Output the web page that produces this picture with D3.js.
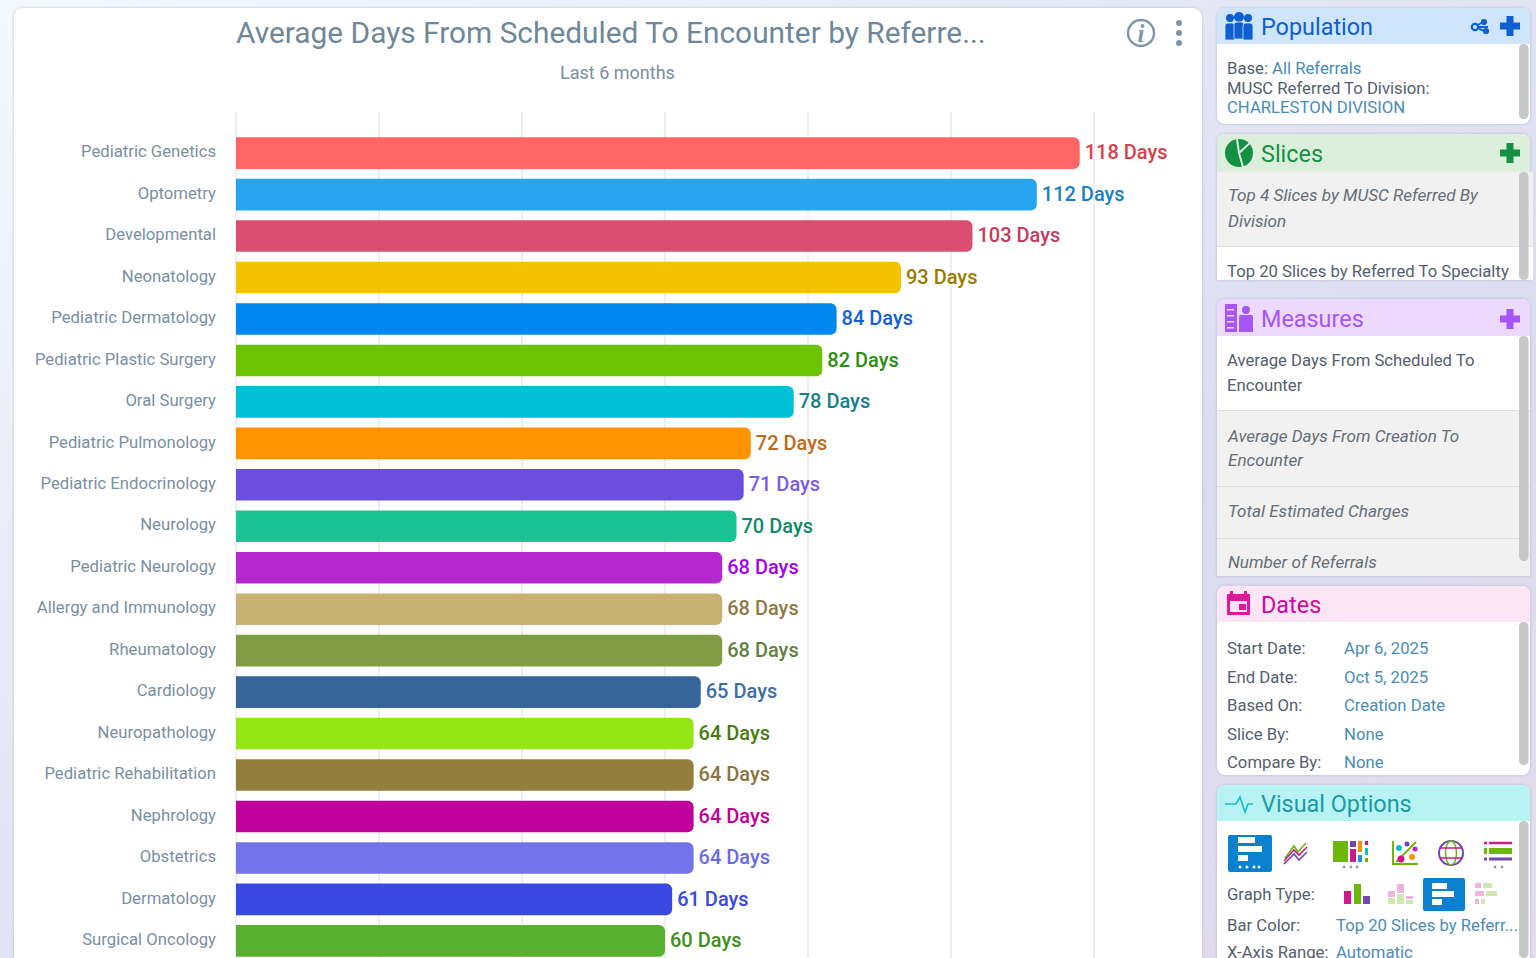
<!DOCTYPE html>
<html>
<head>
<meta charset="utf-8">
<title>Average Days From Scheduled To Encounter</title>
<script src="https://cdn.jsdelivr.net/npm/d3@7"></script>
<style>
  html, body { margin: 0; padding: 0; overflow: hidden; }
  svg { display: block; font-family: Roboto, sans-serif; }
</style>
</head>
<body>
<div id="chart"></div>
<script>
const categories = ["Pediatric Genetics", "Optometry", "Developmental", "Neonatology", "Pediatric Dermatology",
  "Pediatric Plastic Surgery", "Oral Surgery", "Pediatric Pulmonology", "Pediatric Endocrinology", "Neurology",
  "Pediatric Neurology", "Allergy and Immunology", "Rheumatology", "Cardiology", "Neuropathology",
  "Pediatric Rehabilitation", "Nephrology", "Obstetrics", "Dermatology", "Surgical Oncology"];
const values = [118, 112, 103, 93, 84, 82, 78, 72, 71, 70, 68, 68, 68, 65, 64, 64, 64, 64, 61, 60];
const barColors = ["#ff6666", "#26a5ee", "#da4f70", "#f4c300", "#0088f0", "#6cc400", "#00c0d8", "#ff9400", "#6b4de0", "#18c494",
  "#b528d0", "#c8b072", "#809c44", "#366699", "#94e614", "#947e3e", "#c0009c", "#7474ea", "#3848e0", "#58b030"];
const labelColors = ["#d9404a", "#1a7fc9", "#c83a5c", "#9c7a00", "#1060d8", "#2a8e10", "#16808a", "#bf6a1a", "#7a5ce8", "#0f8a68",
  "#a800f0", "#8f7a48", "#62803e", "#3e6ea8", "#4a7a10", "#8a7540", "#c0009a", "#6a6ae8", "#3a48e0", "#3f8f20"];
const gridTicks = [0, 20, 40, 60, 80, 100, 120];

const dateLabels = ["Start Date:", "End Date:", "Based On:", "Slice By:", "Compare By:"];
const dateValues = ["Apr 6, 2025", "Oct 5, 2025", "Creation Date", "None", "None"];

const svg = d3.select("#chart").append("svg").attr("width", 1536).attr("height", 958);
const defs = svg.append("defs");

const bg = defs.append("linearGradient").attr("id", "bg").attr("x1", 0).attr("y1", 0).attr("x2", 1).attr("y2", 1);
bg.append("stop").attr("offset", "0%").attr("stop-color", "#f4f9fe");
bg.append("stop").attr("offset", "65%").attr("stop-color", "#dcdcf0");
bg.append("stop").attr("offset", "100%").attr("stop-color", "#e4dcec");
svg.append("rect").attr("width", 1536).attr("height", 958).attr("fill", "url(#bg)");

const shadow = defs.append("filter").attr("id", "shadow").attr("x", "-5%").attr("y", "-5%").attr("width", "110%").attr("height", "110%");
shadow.append("feDropShadow").attr("dx", 0).attr("dy", 0).attr("stdDeviation", 1.5).attr("flood-color", "#8a9ab8").attr("flood-opacity", 0.55);

// rectangle with its own radius on each corner
function roundPath(x, y, w, h, tl, tr, br, bl) {
  const p = d3.path();
  p.moveTo(x + tl, y);
  p.lineTo(x + w - tr, y);
  if (tr) p.arcTo(x + w, y, x + w, y + tr, tr);
  p.lineTo(x + w, y + h - br);
  if (br) p.arcTo(x + w, y + h, x + w - br, y + h, br);
  p.lineTo(x + bl, y + h);
  if (bl) p.arcTo(x, y + h, x, y + h - bl, bl);
  p.lineTo(x, y + tl);
  if (tl) p.arcTo(x, y, x + tl, y, tl);
  p.closePath();
  return p.toString();
}

function rect(g, x, y, w, h, fill, rx) {
  return g.append("rect").attr("x", x).attr("y", y).attr("width", w).attr("height", h).attr("fill", fill).attr("rx", rx || 0);
}

function text(g, x, y, str, color, size, style) {
  const t = g.append("text").attr("x", x).attr("y", y).attr("dy", "0.35em")
    .attr("fill", color).attr("font-size", size).text(str);
  if (style) t.attr("font-style", style);
  return t;
}

function plus(g, cx, cy, color) {
  g.append("path").attr("fill", color)
    .attr("d", `M${cx - 3.5},${cy - 10}h7v6.5h6.5v7h-6.5v6.5h-7v-6.5h-6.5v-7h6.5z`);
}

// ---- main chart card ----
const card = svg.append("g");
card.append("path").attr("d", roundPath(14, 8, 1188, 960, 9, 9, 0, 0)).attr("fill", "#fff").attr("filter", "url(#shadow)");

text(card, 236, 33, "Average Days From Scheduled To Encounter by Referre...", "#6f8799", 29.85);
text(card, 617.5, 73, "Last 6 months", "#7d8f9e", 18).attr("text-anchor", "middle");

card.append("circle").attr("cx", 1141).attr("cy", 33).attr("r", 13).attr("fill", "none").attr("stroke", "#8197a8").attr("stroke-width", 2.4);
card.append("text").attr("x", 1141).attr("y", 42).attr("text-anchor", "middle").attr("font-family", "Liberation Serif")
  .attr("font-style", "italic").attr("font-weight", 700).attr("font-size", 25).attr("fill", "#8197a8").text("i");
card.selectAll(".dot").data([23, 33, 43]).enter().append("circle").attr("class", "dot")
  .attr("cx", 1179).attr("cy", d => d).attr("r", 3).attr("fill", "#7f95a6");

const x = d3.scaleLinear().domain([0, 120]).range([236, 1094]);
const y = d3.scaleBand().domain(categories).range([132.4, 961.6]).paddingInner(0.238).paddingOuter(0.119);

const grid = card.append("g").attr("transform", "translate(-0.5,112)")
  .call(d3.axisBottom(x).tickValues(gridTicks).tickSize(846).tickFormat(""));
grid.select(".domain").remove();
grid.selectAll("line").attr("stroke", "#e9e9e9").attr("stroke-width", 1.5);

const yAxis = card.append("g").attr("transform", "translate(236,0)")
  .call(d3.axisLeft(y).tickSize(0).tickPadding(20));
yAxis.select(".domain").remove();
yAxis.selectAll("text").attr("fill", "#7b8fa1").attr("font-size", 16.7).attr("font-family", "Roboto").attr("dy", "0.25em");

const rows = categories.map((c, i) => ({ name: c, value: values[i], color: barColors[i], label: labelColors[i] }));

card.selectAll(".bar").data(rows).enter().append("path").attr("class", "bar")
  .attr("d", d => roundPath(x(0), y(d.name), x(d.value) - x(0), y.bandwidth(), 0, 6, 6, 0))
  .attr("fill", d => d.color);

card.selectAll(".val").data(rows).enter().append("text").attr("class", "val")
  .attr("x", d => x(d.value) + 5)
  .attr("y", d => y(d.name) + y.bandwidth() / 2 - 0.7)
  .attr("dy", "0.35em")
  .attr("font-size", 20).attr("font-weight", 500)
  .attr("fill", d => d.label)
  .text(d => d.value + " Days");

// ---- side panels ----
const side = svg.append("g");
const px = 1217, pw = 313;

function panel(top, headH, bodyBottom, headColor, title, titleColor, rounded) {
  const g = side.append("g");
  const r = rounded ? 8 : 0;
  g.append("path").attr("d", roundPath(px, top, pw, bodyBottom - top, 8, 8, r, r)).attr("fill", "#fff").attr("filter", "url(#shadow)");
  g.append("path").attr("d", roundPath(px, top, pw, headH, 8, 8, 0, 0)).attr("fill", headColor);
  text(g, 1261, top + headH / 2 + 1, title, titleColor, 23.4);
  return g;
}

function scrollbar(g, top, bottom) {
  rect(g, 1519, top, 9.5, bottom - top, "#c8c8c8", 4.5);
}

// Population
const pop = panel(8, 36, 124, "#cfe5fb", "Population", "#0f5fd0", true);
text(pop, 1227, 68, "Base: ", "#55606c", 16.7);
text(pop, 1272, 68, "All Referrals", "#4a8cb8", 16.7);
text(pop, 1227, 88, "MUSC Referred To Division:", "#55606c", 16.7);
text(pop, 1227, 107, "CHARLESTON DIVISION", "#4a8cb8", 16.7);
scrollbar(pop, 44, 119);
[[1230, 18, 4], [1239, 17, 5], [1248, 18, 4]].forEach(d => {
  pop.append("circle").attr("cx", d[0]).attr("cy", d[1]).attr("r", d[2]).attr("fill", "#0f5fd0");
  pop.append("path").attr("d", roundPath(d[0] - 5, d[1] + 5, 10, 17, 3, 3, 1, 1)).attr("fill", "#0f5fd0")
    .attr("stroke", "#cfe5fb").attr("stroke-width", 0.8);
});
[[1475, 27, 3.2], [1484, 22, 2], [1486, 31, 2]].forEach(d => {
  pop.append("circle").attr("cx", d[0]).attr("cy", d[1]).attr("r", d[2]).attr("fill", d[2] < 3 ? "#0f5fd0" : "none").attr("stroke", "#0f5fd0").attr("stroke-width", 2.2);
});
pop.append("path").attr("d", "M1478,25L1483,22M1479,29L1485,31M1479,27h9").attr("stroke", "#0f5fd0").attr("stroke-width", 2);
plus(pop, 1510, 26, "#0f5fd0");

// Slices
const sli = panel(134, 38, 280, "#dcefdc", "Slices", "#139044", false);
rect(sli, px, 172, 316, 74, "#f1f1f1");
rect(sli, px, 246, 316, 1, "#e2e2e2");
rect(sli, px + 313, 247, 3, 33, "#fff");
text(sli, 1228, 195, "Top 4 Slices by MUSC Referred By", "#666e76", 17.1, "italic");
text(sli, 1228, 221, "Division", "#666e76", 17.1, "italic");
text(sli, 1227, 271, "Top 20 Slices by Referred To Specialty", "#55606c", 16.7);
scrollbar(sli, 172, 280);
sli.append("circle").attr("cx", 1239).attr("cy", 153).attr("r", 14).attr("fill", "#139044");
sli.append("path").attr("d", "M1252,141L1239,153L1243,167M1239,153L1237,139").attr("fill", "none").attr("stroke", "#dcefdc").attr("stroke-width", 2);
plus(sli, 1510, 153, "#139044");

// Measures
const mea = panel(299, 37, 576, "#ecd9fd", "Measures", "#a855f7", false);
[[410, 76], [486, 52], [538, 38]].forEach(d => {
  rect(mea, px, d[0], pw, d[1], "#f1f1f1");
  rect(mea, px, d[0], pw, 1, "#dfdfdf");
});
text(mea, 1227, 360, "Average Days From Scheduled To", "#55606c", 16.7);
text(mea, 1227, 385, "Encounter", "#55606c", 16.7);
text(mea, 1228, 436, "Average Days From Creation To", "#666e76", 17.1, "italic");
text(mea, 1228, 460, "Encounter", "#666e76", 17.1, "italic");
text(mea, 1228, 511, "Total Estimated Charges", "#666e76", 17.1, "italic");
text(mea, 1228, 562, "Number of Referrals", "#666e76", 17.1, "italic");
scrollbar(mea, 336, 561);
rect(mea, 1225, 304, 12, 28, "#a855f7");
[309, 315, 321, 327].forEach(d => rect(mea, 1227, d, 7, 1.5, "#ecd9fd"));
mea.append("circle").attr("cx", 1246).attr("cy", 310).attr("r", 4).attr("fill", "#a855f7");
mea.append("path").attr("d", roundPath(1239, 315, 14, 17, 2, 2, 0, 0)).attr("fill", "#a855f7");
plus(mea, 1510, 319, "#a855f7");

// Dates
const dat = panel(586, 36, 775, "#fce6f5", "Dates", "#d4089c", true);
dateLabels.forEach((d, i) => {
  const cy = [648, 677, 705, 734, 762][i];
  text(dat, 1227, cy, d, "#55606c", 16.7);
  text(dat, 1344, cy, dateValues[i], "#4a8cb8", 16.7);
});
scrollbar(dat, 622, 765);
rect(dat, 1227, 594, 23, 21, "#e3169c", 1);
rect(dat, 1230, 591, 3, 5, "#e3169c");
rect(dat, 1244, 591, 3, 5, "#e3169c");
rect(dat, 1230, 601, 17, 11, "#fce6f5");
rect(dat, 1239, 604, 7, 6, "#e3169c");

// Visual Options
const vis = panel(785, 36, 970, "#b8f3f3", "Visual Options", "#1a9aa6", false);
scrollbar(vis, 821, 958);
vis.append("path").attr("d", "M1225,804h11l4,-7l5,15l3,-8h5").attr("fill", "none").attr("stroke", "#17bcd4").attr("stroke-width", 1.6);

// selected chart icon
rect(vis, 1228, 835, 44, 37, "#0a80d0", 2);
rect(vis, 1238, 837, 17, 6, "#fff");
rect(vis, 1238, 846, 24, 6, "#fff");
rect(vis, 1238, 855, 10, 6, "#fff");
[1240, 1247, 1254, 1259].forEach(d => vis.append("circle").attr("cx", d).attr("cy", 867).attr("r", 1.5).attr("fill", "#fff"));

// line icon
vis.append("path").attr("d", "M1285,858l9,-12l4,6l8,-9").attr("fill", "none").attr("stroke", "#6cb80a").attr("stroke-width", 1.6);
vis.append("path").attr("d", "M1284,861l10,-11l5,5l8,-8").attr("fill", "none").attr("stroke", "#d0188c").attr("stroke-width", 1.6);
vis.append("path").attr("d", "M1284,864l10,-10l5,6l8,-8").attr("fill", "none").attr("stroke", "#7048b0").attr("stroke-width", 1.6);

// treemap icon
rect(vis, 1333, 841, 15, 21, "#6cb80a");
rect(vis, 1350, 841, 6, 6, "#7048b0");
rect(vis, 1350, 849, 6, 13, "#d0188c");
rect(vis, 1358, 841, 4, 11, "#f49400");
rect(vis, 1358, 855, 4, 7, "#2090e0");
rect(vis, 1365, 841, 3, 4, "#d0188c");
rect(vis, 1365, 848, 3, 7, "#10c0c8");
rect(vis, 1365, 858, 3, 4, "#6cb80a");
[1344, 1351, 1357].forEach(d => vis.append("circle").attr("cx", d).attr("cy", 867).attr("r", 1.4).attr("fill", "#999"));

// scatter icon
vis.append("path").attr("d", "M1393,841v23h25").attr("fill", "none").attr("stroke", "#6cb80a").attr("stroke-width", 2);
vis.append("path").attr("d", "M1396,862l20,-20").attr("fill", "none").attr("stroke", "#6cb80a").attr("stroke-width", 2);
[[1399, 848, 3, "#10c0c8"], [1407, 844, 2.5, "#7048b0"], [1415, 849, 2.5, "#c020c0"], [1401, 859, 3.5, "#d0188c"], [1412, 857, 3, "#f49400"]]
  .forEach(d => vis.append("circle").attr("cx", d[0]).attr("cy", d[1]).attr("r", d[2]).attr("fill", d[3]));

// globe icon
vis.append("circle").attr("cx", 1451).attr("cy", 853).attr("r", 12).attr("fill", "none").attr("stroke", "#7048b0").attr("stroke-width", 2);
vis.append("ellipse").attr("cx", 1451).attr("cy", 853).attr("rx", 5.5).attr("ry", 12).attr("fill", "none").attr("stroke", "#6cb80a").attr("stroke-width", 1.5);
vis.append("path").attr("d", "M1440,848h22M1440,858h22").attr("stroke", "#d0188c").attr("stroke-width", 1.5);

// table icon
[[843, "#d0188c", 2.5], [851, "#6cb80a", 6], [859, "#7048b0", 3]].forEach(d => {
  rect(vis, 1484, d[0] - d[2] / 2, 3, d[2], d[1]);
  rect(vis, 1489, d[0] - d[2] / 2, 23, d[2], d[1]);
});
[1495, 1502].forEach(d => vis.append("circle").attr("cx", d).attr("cy", 867).attr("r", 1.4).attr("fill", "#999"));

text(vis, 1227, 894, "Graph Type:", "#55606c", 16.7);
rect(vis, 1344, 891, 7, 13, "#d0188c");
rect(vis, 1354, 884, 7, 20, "#6cb80a");
rect(vis, 1363, 896, 7, 8, "#7048b0");
rect(vis, 1388, 891, 7, 6, "#eeb4dc");
rect(vis, 1388, 898, 7, 6, "#cfe8b0");
rect(vis, 1397, 884, 7, 9, "#eeb4dc");
rect(vis, 1397, 894, 7, 10, "#cfe8b0");
rect(vis, 1406, 896, 7, 3, "#eeb4dc");
rect(vis, 1406, 900, 7, 4, "#cfe8b0");
rect(vis, 1423, 878, 42, 33, "#0a80d0", 2);
rect(vis, 1432, 883, 15, 6, "#fff");
rect(vis, 1432, 891, 22, 6, "#fff");
rect(vis, 1432, 899, 10, 6, "#fff");
rect(vis, 1475, 883, 6, 5, "#eeb4dc");
rect(vis, 1483, 883, 9, 5, "#cfe8b0");
rect(vis, 1475, 891, 9, 5, "#eeb4dc");
rect(vis, 1486, 891, 11, 5, "#cfe8b0");
rect(vis, 1475, 899, 4, 5, "#eeb4dc");
rect(vis, 1481, 899, 4, 5, "#cfe8b0");
text(vis, 1227, 925, "Bar Color:", "#55606c", 16.7);
text(vis, 1336, 925, "Top 20 Slices by Referr...", "#4a8cb8", 16.7);
text(vis, 1227, 952, "X-Axis Range:", "#55606c", 16.7);
text(vis, 1336, 952, "Automatic", "#4a8cb8", 16.7);
</script>
</body>
</html>
